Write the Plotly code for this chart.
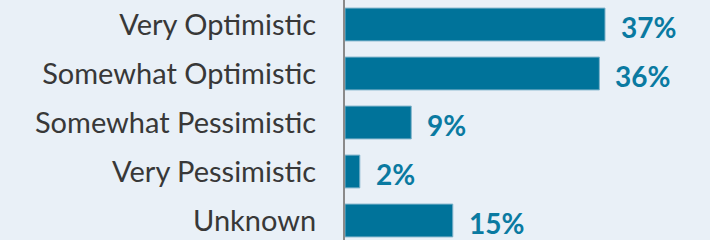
import plotly.graph_objects as go

categories = ["Very Optimistic", "Somewhat Optimistic", "Somewhat Pessimistic", "Very Pessimistic", "Unknown"]
values = [36.9, 36.1, 9.4, 2.1, 15.3]
value_labels = ["37%", "36%", "9%", "2%", "15%"]

BAR = "#00739a"
BG = "#e9f0f7"

fig = go.Figure(go.Bar(
    x=values, y=categories, orientation="h",
    marker=dict(color=BAR, line=dict(color="#7fb3cb", width=1)),
    hoverinfo="skip",
))

for v, c, t in zip(values, categories, value_labels):
    fig.add_annotation(x=v, y=c, text=f"<b>{t}</b>", showarrow=False,
                       xanchor="left", yanchor="middle", xshift=14, yshift=-2,
                       font=dict(family="Lato", size=28, color="#0a7aa1"))

fig.update_layout(
    width=710, height=240,
    margin=dict(l=345, r=0, t=0, b=0),
    paper_bgcolor=BG, plot_bgcolor=BG,
    bargap=0.33,
    showlegend=False,
    xaxis=dict(range=[0, 51.8], visible=False, fixedrange=True),
    yaxis=dict(type="category", range=[4.398, -0.5], showgrid=False,
               showline=True, linecolor="#8a8a8a", linewidth=2,
               ticks="", ticklabelstandoff=21, automargin=False,
               tickfont=dict(family="Lato", size=29, color="#383838")),
)

fig.write_html("out.html", config={"displayModeBar": False},
               post_script="document.body.style.margin='0';document.body.style.background='%s';" % BG)
